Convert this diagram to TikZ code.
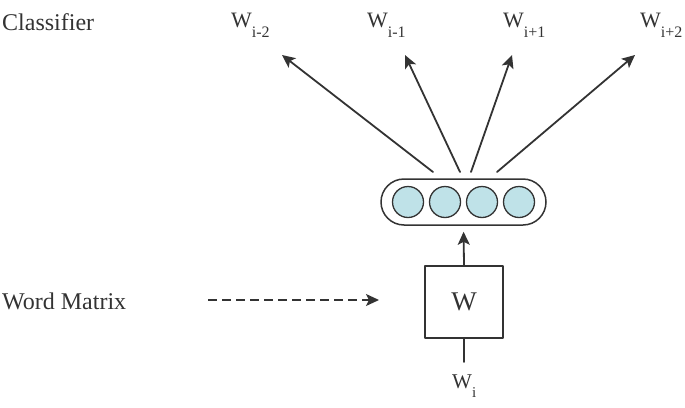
\documentclass[tikz,border=0pt]{standalone}
\usepackage{fontspec}
\setmainfont{Liberation Serif}
\usetikzlibrary{arrows.meta}
\definecolor{ink}{RGB}{51,51,51}
\definecolor{unitblue}{RGB}{191,226,232}
\tikzset{
	unit/.style={circle, draw=ink, line width=1.3pt, fill=unitblue, minimum size=31pt, inner sep=0pt},
	lbl/.style={anchor=base west, inner sep=0pt, text=ink},
	conn/.style={ink, line width=1.8pt},
}
\newcommand{\wsub}[1]{W\raisebox{-10pt}{\fontsize{16}{16}\selectfont #1}}
\begin{document}
\begin{tikzpicture}[x=1pt, y=-1pt, font=\fontsize{22}{24}\selectfont, line join=round, line cap=round, >={Stealth[length=13pt, width=12pt, inset=3pt]}]
			\useasboundingbox (0,0) rectangle (685,407);
			\node[lbl, font=\fontsize{24}{26}\selectfont] (cls) at (2,30) {Classifier};
			\node[lbl, font=\fontsize{24}{26}\selectfont] (wm) at (2,309) {Word Matrix};
			\node[lbl] (l1) at (231,27) {\wsub{i-2}};
			\node[lbl] (l2) at (367,27) {\wsub{i-1}};
			\node[lbl] (l3) at (503,27) {\wsub{i+1}};
			\node[lbl] (l4) at (640,27) {\wsub{i+2}};
			\node[draw=ink, line width=1.5pt, rounded corners=23pt, minimum width=165pt, minimum height=46pt] (hid) at (463.5,202) {};
			\foreach \i/\x in {1/408,2/445,3/482,4/519}{\node[unit] (c\i) at (\x,202) {};}
			\node[draw=ink, line width=1.5pt, minimum width=78pt, minimum height=72pt, font=\fontsize{27}{29}\selectfont, text=ink] (W) at (464,302) {W};
			\node[lbl, font=\fontsize{21}{23}\selectfont] (wi) at (452,388) {W\raisebox{-9pt}{\fontsize{15}{15}\selectfont i}};
			\path 
			(433,172) coordinate (s1)
			(460,172) coordinate (s2)
			(471,172) coordinate (s3)
			(497,172) coordinate (s4)
			(282,55) coordinate (t1)
			(405,55) coordinate (t2)
			(512,55) coordinate (t3)
			(635,55) coordinate (t4)
			(208,300) coordinate (d0)
			(379,300) coordinate (d1)
			(464,362) coordinate (in);
			\foreach \i in {1,2,3,4}{\draw[conn, ->](s\i)--(t\i);}
			\draw[conn, ->, shorten >=6pt](W.north)--(hid.south);
			\draw[conn](in)--(W.south);
			\draw[conn, ->, line width=1.5pt, line cap=butt, dash pattern=on 9pt off 5pt](d0)--(d1);
	\end{tikzpicture}
\end{document}
